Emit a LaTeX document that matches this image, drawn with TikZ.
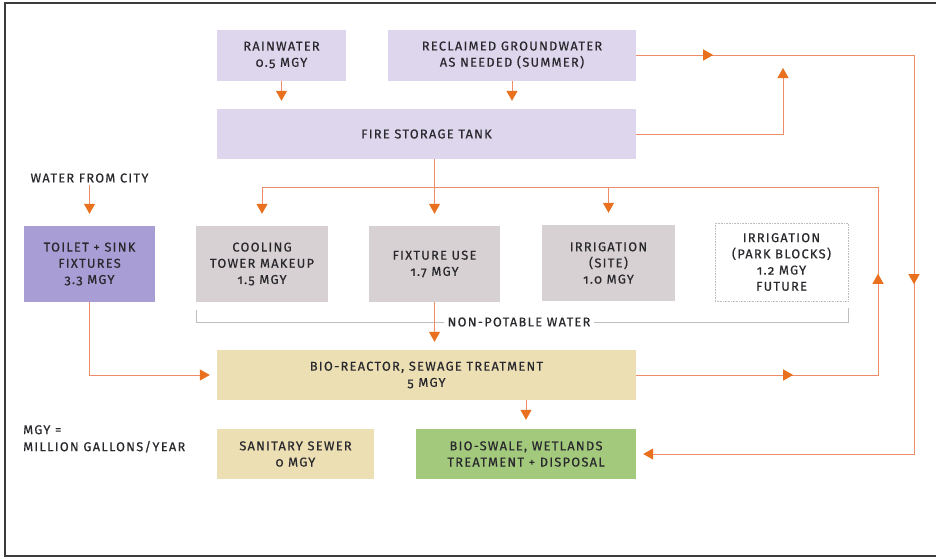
\documentclass[tikz,border=0pt]{standalone}
\usepackage{fontspec}
\setmainfont{Fira Sans}[LetterSpace=10, Numbers=OldStyle, FakeBold=0.5]
\usetikzlibrary{arrows.meta, decorations.markings}
\definecolor{lav}{RGB}{222,214,237}
\definecolor{toil}{RGB}{168,157,212}
\definecolor{gry}{RGB}{216,209,211}
\definecolor{tan}{RGB}{237,223,180}
\definecolor{grn}{RGB}{163,201,124}
\definecolor{txt}{RGB}{40,40,45}
\definecolor{linec}{RGB}{236,140,105}
\definecolor{arrc}{RGB}{232,112,30}
\definecolor{brkc}{RGB}{190,190,190}
\definecolor{framec}{RGB}{60,60,60}
\begin{document}
\begin{tikzpicture}[x=1pt, y=-1pt,
  Ar/.tip={Triangle[width=11pt,length=10pt,color=arrc]},
  box/.style={rectangle, inner sep=0pt, align=center, text=txt, font=\fontsize{12.8}{16.2}\selectfont},
  lbl/.style={inner sep=2pt, align=left, text=txt, font=\fontsize{12.8}{17}\selectfont},
  flow/.style={draw=linec, line width=1pt, -Ar},
  tipat/.style={postaction={decorate, decoration={markings, mark=at position #1 with {\arrow{Ar}}}}},
  brk/.style={draw=brkc, line width=0.7pt},
  frame/.style={draw=framec, line width=1.4pt}]
\useasboundingbox (0,0) rectangle (936,558);
\draw[frame] (936,3) -- (5,3) -- (5,556) -- (936,556);

% boxes
\node[box, fill=lav, minimum width=129pt, minimum height=51pt] (rain) at (281.5,55) {RAINWATER\\0.5 MGY};
\node[box, fill=lav, minimum width=248pt, minimum height=51pt] (recl) at (512,55) {RECLAIMED GROUNDWATER\\AS NEEDED (SUMMER)};
\node[box, fill=lav, minimum width=419pt, minimum height=50pt] (fire) at (426.5,134) {FIRE STORAGE TANK};
\node[box, fill=toil, minimum width=131pt, minimum height=76pt] (toilet) at (89.5,264) {TOILET + SINK\\FIXTURES\\3.3 MGY};
\node[box, fill=gry, minimum width=132pt, minimum height=76pt] (cool) at (262,264) {COOLING\\TOWER MAKEUP\\1.5 MGY};
\node[box, fill=gry, minimum width=131pt, minimum height=76pt] (fix) at (434.5,264) {FIXTURE USE\\1.7 MGY};
\node[box, fill=gry, minimum width=133pt, minimum height=76pt] (irr) at (608.5,263) {IRRIGATION\\(SITE)\\1.0 MGY};
\node[box, draw=brkc, densely dotted, line width=0.6pt, minimum width=133pt, minimum height=78pt] (park) at (781.5,262) {IRRIGATION\\(PARK BLOCKS)\\1.2 MGY\\FUTURE};
\node[box, fill=tan, minimum width=419pt, minimum height=50pt] (bio) at (426.5,375) {BIO-REACTOR, SEWAGE TREATMENT\\5 MGY};
\node[box, fill=tan, minimum width=157pt, minimum height=50pt] (san) at (295.5,454) {SANITARY SEWER\\0 MGY};
\node[box, fill=grn, minimum width=220pt, minimum height=50pt] (swale) at (526,454) {BIO-SWALE, WETLANDS\\TREATMENT + DISPOSAL};

% labels
\node[lbl] (city) at (89.5,178) {WATER FROM CITY};
\node[lbl, anchor=north west] (mgy) at (21,423) {MGY =\\MILLION GALLONS/YEAR};
\node[lbl, inner sep=3pt] (np) at (519,322) {NON-POTABLE WATER};

% non-potable bracket
\coordinate (bl) at (196,310);
\coordinate (br) at (848,308);
\draw[brk] (bl) |- (np.west);
\draw[brk] (np.east) -| (br);

% coordinates
\coordinate (NE) at (914,454);
\coordinate (FU) at (783,68);
\coordinate (BR) at (878,187);
\coordinate (BL) at (262,187);

% connectors
\draw[flow, shorten >=8pt] (rain.south) -- (rain.south |- fire.north);
\draw[flow, shorten >=8pt] (recl.south) -- (recl.south |- fire.north);
\draw[flow, shorten >=7pt, tipat=77pt, tipat=507pt] (recl.east) -| (NE) -- (swale.east);
\draw[flow] (fire.east) -| (FU);
\draw[flow, shorten >=12pt] (fire.south -| fix.north) -- (fix.north);
\draw[flow, shorten >=12pt, tipat=157pt, tipat=343pt] (bio.east) -| (BR) -- (BL) -- (cool.north);
\draw[flow, shorten >=12pt] (irr.north |- BL) -- (irr.north);
\draw[flow, shorten >=12pt] (city.south -| toilet.north) -- (toilet.north);
\draw[flow, shorten >=7pt] (toilet.south) |- (bio.west);
\draw[flow, shorten >=8pt] (fix.south) -- (fix.south |- bio.north);
\draw[flow, shorten >=9pt] (bio.south -| swale.north) -- (swale.north);
\end{tikzpicture}
\end{document}
